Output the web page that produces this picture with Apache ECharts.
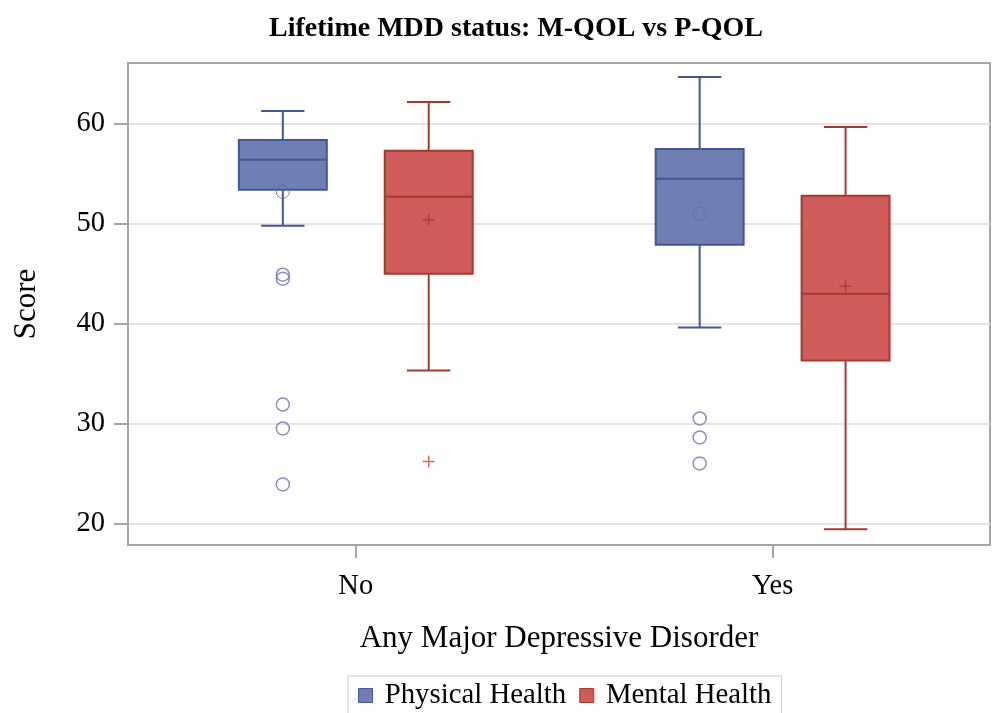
<!DOCTYPE html>
<html>
<head>
<meta charset="utf-8">
<script src="https://cdn.jsdelivr.net/npm/echarts@6/dist/echarts.min.js"></script>
<style>html,body{margin:0;padding:0;background:#fff}#c{width:992px;height:713px}</style>
</head>
<body>
<div id="c"></div>
<script>
// ---- data ----
const categories = ['No', 'Yes'];
const seriesNames = ['Physical Health', 'Mental Health'];
// [lower whisker, Q1, median, Q3, upper whisker]
const physicalBox = [[49.8, 53.4, 56.4, 58.4, 61.3], [39.6, 47.9, 54.5, 57.5, 64.7]];
const mentalBox = [[35.3, 45.0, 52.7, 57.3, 62.2], [19.4, 36.3, 43.0, 52.8, 59.7]];
const physicalMean = [53.2, 51.0];
const mentalMean = [50.4, 43.75];
// [category index, value]
const physicalOutliers = [[0, 44.9], [0, 44.5], [0, 31.9], [0, 29.5], [0, 23.9], [1, 30.5], [1, 28.6], [1, 26.0]];
const mentalOutliers = [[0, 26.2]];
const yTicks = [20, 30, 40, 50, 60];

// ---- style ----
const FONT = '"Liberation Serif", "DejaVu Serif", serif';
const fill = ['#6F7EB3', '#D05B5B'];
const line = ['#445694', '#A23A2E'];
const offsets = [-0.175, 0.175];
const boxW = 0.211, capW = 0.104;
const plusPath = 'path://M5.25,0H6.75V5.25H12V6.75H6.75V12H5.25V6.75H0V5.25H5.25Z';

function boxSeries(k, boxes) {
  return {
    type: 'custom', name: seriesNames[k],
    itemStyle: { color: fill[k], borderColor: line[k] },
    data: boxes.map((b, i) => [i + offsets[k]].concat(b)),
    encode: { x: 0, y: [1, 2, 3, 4, 5] },
    z: 2,
    renderItem(params, api) {
      const x = api.value(0);
      const lo = api.coord([x, api.value(1)]), q1 = api.coord([x, api.value(2)]),
            md = api.coord([x, api.value(3)]), q3 = api.coord([x, api.value(4)]),
            hi = api.coord([x, api.value(5)]);
      const hw = api.size([boxW, 0])[0] / 2, cw = api.size([capW, 0])[0] / 2;
      const cx = lo[0];
      const ls = { stroke: line[k], lineWidth: 2 };
      return {
        type: 'group', children: [
          { type: 'line', shape: { x1: cx, y1: q3[1], x2: cx, y2: hi[1] }, style: ls },
          { type: 'line', shape: { x1: cx, y1: q1[1], x2: cx, y2: lo[1] }, style: ls },
          { type: 'line', shape: { x1: cx - cw, y1: hi[1], x2: cx + cw, y2: hi[1] }, style: ls },
          { type: 'line', shape: { x1: cx - cw, y1: lo[1], x2: cx + cw, y2: lo[1] }, style: ls },
          { type: 'rect', shape: { x: cx - hw, y: q3[1], width: hw * 2, height: q1[1] - q3[1] },
            style: { fill: fill[k], stroke: line[k], lineWidth: 2 } },
          { type: 'line', shape: { x1: cx - hw, y1: md[1], x2: cx + hw, y2: md[1] }, style: ls }
        ]
      };
    }
  };
}

const option = {
  animation: false,
  backgroundColor: '#fff',
  title: {
    text: 'Lifetime MDD status: M-QOL vs P-QOL',
    left: 511, top: 10, textAlign: 'center',
    textStyle: { fontFamily: FONT, fontSize: 28, fontWeight: 'bold', color: '#000' }
  },
  legend: {
    data: seriesNames.map((n, k) => ({ name: n, itemStyle: { color: fill[k], borderColor: line[k], borderWidth: 1 } })),
    formatter: n => ' ' + n,
    bottom: -3, left: 348, icon: 'rect', itemWidth: 14, itemHeight: 14, itemGap: 13,
    borderColor: '#cccccc', borderWidth: 1, padding: [5, 10, 6, 10],
    textStyle: { fontFamily: FONT, fontSize: 28.8, color: '#000' }
  },
  grid: { left: 128, top: 63, right: 2, bottom: 168, show: true, borderColor: '#a6a6a6', borderWidth: 2, containLabel: false },
  xAxis: {
    type: 'value', min: -0.5464, max: 1.5215,
    name: 'Any Major Depressive Disorder', nameLocation: 'middle', nameGap: 78,
    nameTextStyle: { fontFamily: FONT, fontSize: 31, color: '#000' },
    axisLine: { show: true, onZero: false, lineStyle: { color: '#a6a6a6', width: 2 } },
    axisTick: { show: true, length: 13, customValues: [0, 1], lineStyle: { color: '#a6a6a6', width: 2 } },
    axisLabel: { customValues: [0, 1], margin: 27, formatter: v => categories[Math.round(v)] || '',
      fontFamily: FONT, fontSize: 28.5, color: '#000' },
    splitLine: { show: false }
  },
  yAxis: {
    type: 'value', min: 17.83, max: 66.1,
    name: 'Score', nameLocation: 'middle', nameGap: 86, nameRotate: 90,
    nameTextStyle: { fontFamily: FONT, fontSize: 31, color: '#000' },
    axisLine: { show: true, onZero: false, lineStyle: { color: '#a6a6a6', width: 2 } },
    axisTick: { show: true, length: 14, customValues: yTicks, lineStyle: { color: '#a6a6a6', width: 2 } },
    axisLabel: { customValues: yTicks, margin: 23, fontFamily: FONT, fontSize: 28.5, color: '#000' },
    splitLine: { show: true, lineStyle: { color: '#e4e4e4', width: 2 } }
  },
  series: [
    boxSeries(0, physicalBox),
    boxSeries(1, mentalBox),
    { type: 'scatter', name: 'pm', z: 5, symbol: 'circle', symbolSize: 13,
      itemStyle: { color: 'rgba(0,0,0,0)', borderColor: '#5a68a8', borderWidth: 1, opacity: 0.8 },
      data: physicalMean.map((v, i) => [i + offsets[0], v]) },
    { type: 'scatter', name: 'mm', z: 5, symbol: plusPath, symbolSize: 12,
      itemStyle: { color: '#A23A2E', opacity: 0.8 },
      data: mentalMean.map((v, i) => [i + offsets[1], v]) },
    { type: 'scatter', name: 'po', z: 5, symbol: 'circle', symbolSize: 13,
      itemStyle: { color: 'rgba(0,0,0,0)', borderColor: '#6676b8', borderWidth: 1.5 },
      data: physicalOutliers.map(d => [d[0] + offsets[0], d[1]]) },
    { type: 'scatter', name: 'mo', z: 5, symbol: plusPath, symbolSize: 12,
      itemStyle: { color: '#C04A40' },
      data: mentalOutliers.map(d => [d[0] + offsets[1], d[1]]) }
  ]
};
echarts.init(document.getElementById('c'), null, { renderer: 'canvas' }).setOption(option);
</script>
</body>
</html>
